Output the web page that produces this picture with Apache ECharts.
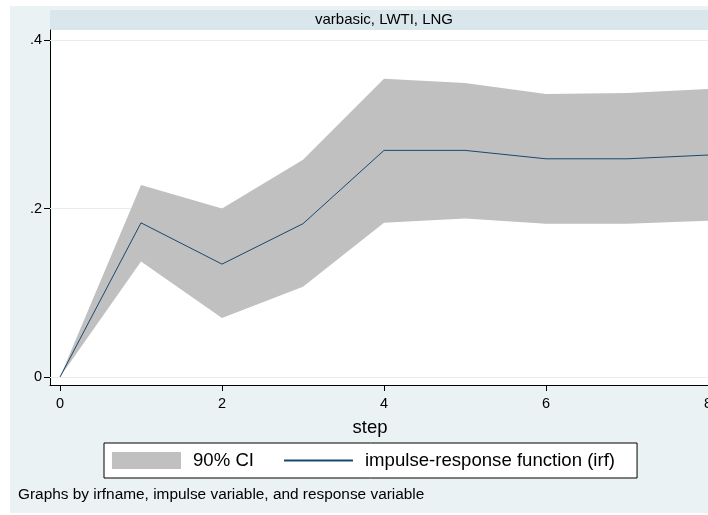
<!DOCTYPE html>
<html>
<head>
<meta charset="utf-8">
<title>varbasic, LWTI, LNG</title>
<script src="https://cdn.jsdelivr.net/npm/echarts@6.0.0/dist/echarts.min.js"></script>
<style>
    html, body { margin: 0; padding: 0; background: #fff; }
    #chart { width: 708px; height: 515px; }
</style>
</head>
<body>
<div id="chart"></div>
<script>
// irf values
var steps   = [0, 1, 2, 3, 4, 5, 6, 7, 8];
var irf     = [0, 0.183, 0.134, 0.182, 0.269, 0.269, 0.259, 0.259, 0.2635];
var ciLower = [0, 0.137, 0.070, 0.107, 0.183, 0.188, 0.182, 0.182, 0.1855];
var ciUpper = [0, 0.228, 0.200, 0.258, 0.354, 0.349, 0.336, 0.337, 0.342];
var xTicks  = [0, 2, 4, 6, 8];
var yTicks  = [0, 0.2, 0.4];

var panelTitle = 'varbasic, LWTI, LNG';
var noteText = 'Graphs by irfname, impulse variable, and response variable';
var font = '"Liberation Sans", Arial, sans-serif';

var toPairs = function (ys) {
    return steps.map(function (s, i) { return [s, ys[i]]; });
};

// CI band: one polygon, upper bound forward then lower bound back
var renderBand = function (params, api) {
    if (params.dataIndex !== 0) return;
    var pts = [];
    for (var i = 0; i < steps.length; i++) pts.push(api.coord([steps[i], ciUpper[i]]));
    for (var j = steps.length - 1; j >= 0; j--) pts.push(api.coord([steps[j], ciLower[j]]));
    return {
        type: 'polygon',
        shape: { points: pts },
        style: { fill: '#c0c0c0' }
    };
};

var chart = echarts.init(document.getElementById('chart'));

var option = {
    animation: false,
    backgroundColor: '#eaf2f3',
    textStyle: { fontFamily: font },
    graphic: [
        // white edges of the screenshot
        { type: 'rect', z: 100, shape: { x: 0, y: 0, width: 10, height: 515 }, style: { fill: '#fff' } },
        { type: 'rect', z: 100, shape: { x: 0, y: 0, width: 708, height: 6 }, style: { fill: '#fff' } },
        { type: 'rect', z: 100, shape: { x: 0, y: 513, width: 708, height: 2 }, style: { fill: '#fff' } },
        // subtitle strip
        { type: 'rect', shape: { x: 50, y: 10, width: 658, height: 20 }, style: { fill: '#d9e6eb' } },
        {
            type: 'text', x: 384, y: 20,
            style: { text: panelTitle, font: '15px ' + font, fill: '#000', align: 'center', verticalAlign: 'middle' }
        },
        {
            type: 'text', x: 18, y: 495,
            style: { text: noteText, font: '15.4px ' + font, fill: '#000', align: 'left', verticalAlign: 'middle' }
        }
    ],
    grid: {
        left: 50, top: 30, right: 0, bottom: 130,
        outerBoundsMode: 'none', containLabel: false,
        show: true, backgroundColor: '#fff', borderWidth: 0
    },
    legend: {
        left: 104, top: 443,
        backgroundColor: '#fff', borderColor: '#000', borderWidth: 1, borderRadius: 0,
        padding: [8, 22, 8, 8],
        itemWidth: 69, itemHeight: 17, itemGap: 29,
        textStyle: { fontSize: 18.6, color: '#000', padding: [0, 0, 0, 7] },
        data: [
            { name: '90% CI', icon: 'rect' },
            { name: 'impulse-response function (irf)', itemStyle: { opacity: 0 } }
        ]
    },
    xAxis: {
        type: 'value', min: -0.1235, max: 8,
        name: 'step', nameLocation: 'middle', nameGap: 33,
        nameTextStyle: { fontSize: 18.5, color: '#000', padding: [0, 18, 0, 0] },
        axisLine: { show: true, onZero: false, lineStyle: { color: '#000', width: 1 } },
        axisTick: { show: true, length: 6, customValues: xTicks, lineStyle: { color: '#000' } },
        axisLabel: { customValues: xTicks, fontSize: 14.5, color: '#000', margin: 11 },
        splitLine: { show: false }
    },
    yAxis: {
        type: 'value', min: -0.0095, max: 0.4119,
        axisLine: { show: true, onZero: false, lineStyle: { color: '#000', width: 1 } },
        axisTick: { show: true, length: 6, customValues: yTicks, lineStyle: { color: '#000' } },
        axisLabel: {
            customValues: yTicks, fontSize: 14.5, color: '#000', margin: 8,
            formatter: function (v) { return v === 0 ? '0' : String(v).replace(/^0/, ''); }
        },
        splitLine: { show: false }
    },
    series: [{
        name: '90% CI', type: 'custom', z: 3, silent: true,
        data: steps.map(function (s, i) { return [s, ciLower[i], ciUpper[i]]; }),
        encode: { x: 0, y: [1, 2] },
        itemStyle: { color: '#c0c0c0' },
        renderItem: renderBand
    }, {
        name: 'impulse-response function (irf)', type: 'line', data: toPairs(irf),
        symbol: 'none', z: 4,
        lineStyle: { color: '#1a476f', width: 1 },
        itemStyle: { color: '#1a476f' },
        // light horizontal gridlines, under the band
        markLine: {
            z: 1, silent: true, symbol: 'none', label: { show: false },
            lineStyle: { color: '#e6edf0', width: 1, type: 'solid' },
            data: yTicks.map(function (v) { return { yAxis: v }; })
        }
    }]
};

chart.setOption(option);
</script>
</body>
</html>
